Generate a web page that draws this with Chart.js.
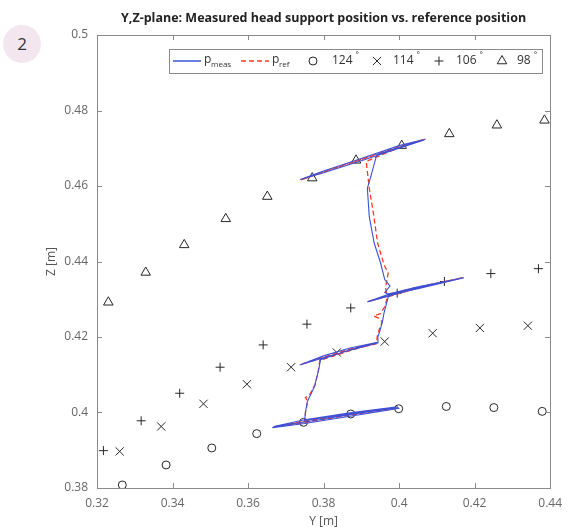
<!DOCTYPE html>
<html>
<head>
<meta charset="utf-8">
<script src="https://cdn.jsdelivr.net/npm/chart.js@4.4.0/dist/chart.umd.min.js"></script>
<style>
  body { margin: 0; background: #fff; }
  #wrap { position: relative; width: 570px; height: 527px; }
  #badge { position: absolute; left: 3px; top: 25px; width: 38px; height: 38px; border-radius: 50%;
           background: #f4e6ee; font: 17px 'Open Sans', sans-serif; color: #333; text-align: center; line-height: 38px; }
</style>
</head>
<body>
<div id="wrap">
  <canvas id="c" width="570" height="527"></canvas>
  <div id="badge">2</div>
</div>
<script>
'use strict';

// axis ticks (horizontal axis is Y, vertical axis is Z)
var ticksY = [0.32, 0.34, 0.36, 0.38, 0.4, 0.42, 0.44];
var ticksZ = [0.38, 0.4, 0.42, 0.44, 0.46, 0.48, 0.5];

// measured head support path
var measY = [0.3664, 0.3750, 0.3870, 0.3999, 0.3995, 0.3870, 0.3750, 0.3668, 0.3750, 0.3870, 0.3990, 0.3870, 0.3750,
             0.3752, 0.3757, 0.3776, 0.3787, 0.3792,
             0.3870, 0.3943, 0.3870, 0.3800, 0.3737, 0.3800, 0.3870, 0.3943,
             0.3944, 0.3950, 0.3956, 0.3960, 0.3967, 0.3973,
             0.4050, 0.4172, 0.4050, 0.3980, 0.3916, 0.3980, 0.4050, 0.4165, 0.4050, 0.3970,
             0.3962, 0.3976, 0.3962, 0.3951, 0.3934, 0.3921, 0.3916, 0.3925, 0.3941,
             0.4000, 0.4070, 0.4000, 0.3900, 0.3800, 0.3738, 0.3800, 0.3900, 0.4000, 0.4066];
var measZ = [0.3960, 0.3971, 0.3990, 0.4011, 0.4015, 0.3999, 0.3981, 0.3963, 0.3975, 0.3994, 0.4013, 0.3996, 0.3979,
             0.4000, 0.4029, 0.4069, 0.4113, 0.4140,
             0.4166, 0.4186, 0.4171, 0.4150, 0.4126, 0.4145, 0.4165, 0.4184,
             0.4201, 0.4219, 0.4241, 0.4263, 0.4290, 0.4312,
             0.4328, 0.4357, 0.4333, 0.4316, 0.4293, 0.4311, 0.4329, 0.4356, 0.4331, 0.4314,
             0.4318, 0.4335, 0.4352, 0.4396, 0.4449, 0.4519, 0.4594, 0.4625, 0.4683,
             0.4702, 0.4724, 0.4707, 0.4673, 0.4640, 0.4617, 0.4635, 0.4667, 0.4700, 0.4722];

// reference path
var refY = [0.3666, 0.3750, 0.3870, 0.3997, 0.3870, 0.3750, 0.3670, 0.3750,
            0.3752, 0.3758, 0.3752, 0.3762, 0.3778, 0.3786, 0.3790,
            0.3870, 0.3940, 0.3870, 0.3740, 0.3870, 0.3940,
            0.3942, 0.3948, 0.3955, 0.3945, 0.3933, 0.3950, 0.3962, 0.3969,
            0.4050, 0.4168, 0.4050, 0.3918, 0.4050, 0.4160, 0.4050, 0.3968,
            0.3964, 0.3971, 0.3960, 0.3943, 0.3932, 0.3921, 0.3913,
            0.4000, 0.4068, 0.4000, 0.3900, 0.3800, 0.3740, 0.3800, 0.3900, 0.4000, 0.4062];
var refZ = [0.3961, 0.3974, 0.3993, 0.4012, 0.3996, 0.3977, 0.3962, 0.3976,
            0.4000, 0.4030, 0.4040, 0.4045, 0.4075, 0.4110, 0.4138,
            0.4164, 0.4184, 0.4168, 0.4128, 0.4166, 0.4182,
            0.4200, 0.4222, 0.4240, 0.4250, 0.4256, 0.4262, 0.4280, 0.4306,
            0.4330, 0.4357, 0.4331, 0.4294, 0.4330, 0.4355, 0.4332, 0.4312,
            0.4330, 0.4369, 0.4392, 0.4449, 0.4528, 0.4594, 0.4665,
            0.4702, 0.4724, 0.4704, 0.4671, 0.4638, 0.4616, 0.4637, 0.4670, 0.4702, 0.4722];

// reference positions per angle
var pos124Y = [0.3267, 0.3383, 0.3504, 0.3623, 0.3747, 0.3872, 0.3999, 0.4125, 0.4251, 0.4379];
var pos124Z = [0.3808, 0.3861, 0.3906, 0.3944, 0.3974, 0.3996, 0.4010, 0.4016, 0.4013, 0.4003];
var pos114Y = [0.3260, 0.3370, 0.3482, 0.3597, 0.3714, 0.3835, 0.3962, 0.4089, 0.4214, 0.4341];
var pos114Z = [0.3897, 0.3963, 0.4023, 0.4075, 0.4120, 0.4159, 0.4188, 0.4210, 0.4224, 0.4230];
var pos106Y = [0.3217, 0.3317, 0.3419, 0.3526, 0.3640, 0.3756, 0.3872, 0.3995, 0.4120, 0.4243, 0.4369];
var pos106Z = [0.3899, 0.3978, 0.4051, 0.4120, 0.4179, 0.4234, 0.4277, 0.4316, 0.4347, 0.4368, 0.4381];
var pos98Y  = [0.3230, 0.3329, 0.3431, 0.3541, 0.3651, 0.3770, 0.3886, 0.4007, 0.4133, 0.4259, 0.4385];
var pos98Z  = [0.4292, 0.4371, 0.4444, 0.4513, 0.4572, 0.4621, 0.4668, 0.4707, 0.4738, 0.4761, 0.4774];

function pts(a, b) {
    return a.map(function(v, i) { return {x: v, y: b[i]}; });
}

var blue = '#3d50d6';
var red = '#ff3a1c';
var ink = '#262626';
var font = "'Open Sans', sans-serif";

function marker(label, style, r, a, b) {
    return {
        label: label, data: pts(a, b), showLine: false,
        pointStyle: style, pointRadius: r, pointHoverRadius: r,
        pointBorderColor: ink, pointBackgroundColor: 'rgba(0,0,0,0)', pointBorderWidth: 1
    };
}

// matlab-like box, inward ticks, titles and legend
var decor = {
    id: 'decor',
    afterDraw: function(chart) {
        var ctx = chart.ctx, a = chart.chartArea;
        var sx = chart.scales.x, sy = chart.scales.y;
        ctx.save();
        ctx.strokeStyle = '#8a8a8a';
        ctx.lineWidth = 1;
        ctx.strokeRect(Math.round(a.left) + 0.5, Math.round(a.top) + 0.5,
                       Math.round(a.right - a.left), Math.round(a.bottom - a.top));
        ctx.beginPath();
        ticksY.forEach(function(t, i) {
            if (i === 0 || i === ticksY.length - 1) return;
            var px = Math.round(sx.getPixelForValue(t)) + 0.5;
            ctx.moveTo(px, a.bottom); ctx.lineTo(px, a.bottom - 5);
            ctx.moveTo(px, a.top); ctx.lineTo(px, a.top + 5);
        });
        ticksZ.forEach(function(t, i) {
            if (i === 0 || i === ticksZ.length - 1) return;
            var py = Math.round(sy.getPixelForValue(t)) + 0.5;
            ctx.moveTo(a.left, py); ctx.lineTo(a.left + 5, py);
            ctx.moveTo(a.right, py); ctx.lineTo(a.right - 5, py);
        });
        ctx.stroke();

        // title and axis labels
        ctx.fillStyle = '#222';
        ctx.textAlign = 'center';
        ctx.textBaseline = 'middle';
        ctx.font = 'bold 12.5px ' + font;
        ctx.fillText('Y,Z-plane: Measured head support position vs. reference position', (a.left + a.right) / 2, 18);
        ctx.fillStyle = '#555';
        ctx.font = '12px ' + font;
        ctx.fillText('Y [m]', (a.left + a.right) / 2, 522);
        ctx.save();
        ctx.translate(52, (a.top + a.bottom) / 2);
        ctx.rotate(-Math.PI / 2);
        ctx.fillText('Z [m]', 0, 0);
        ctx.restore();

        // legend
        var lx = 169.5, ly = 49.5, lw = 373, lh = 24, cy = 61;
        ctx.fillStyle = '#fff';
        ctx.fillRect(lx, ly, lw, lh);
        ctx.strokeStyle = '#8a8a8a';
        ctx.strokeRect(lx, ly, lw, lh);

        ctx.lineWidth = 1.5;
        ctx.strokeStyle = blue;
        ctx.beginPath(); ctx.moveTo(173, cy); ctx.lineTo(201, cy); ctx.stroke();
        ctx.strokeStyle = red;
        ctx.setLineDash([5, 3]);
        ctx.beginPath(); ctx.moveTo(241, cy); ctx.lineTo(269, cy); ctx.stroke();
        ctx.setLineDash([]);

        ctx.fillStyle = '#333';
        ctx.textAlign = 'left';
        ctx.font = '12px ' + font;
        ctx.fillText('p', 204, cy - 1);
        ctx.fillText('p', 272, cy - 1);
        ctx.font = '8px ' + font;
        ctx.fillText('meas', 211, cy + 4);
        ctx.fillText('ref', 279, cy + 4);

        var items = [
            ['circle', 4, 313, '124', 332],
            ['crossRot', 5.8, 377, '114', 393],
            ['cross', 4.5, 439, '106', 456],
            ['triangle', 5.5, 502, '98', 517]
        ];
        items.forEach(function(it) {
            ctx.strokeStyle = ink;
            ctx.fillStyle = 'rgba(0,0,0,0)';
            ctx.lineWidth = 1;
            Chart.helpers.drawPoint(ctx, {pointStyle: it[0], radius: it[1], rotation: 0, borderWidth: 1}, it[2], cy);
            ctx.fillStyle = '#333';
            ctx.font = '12px ' + font;
            ctx.fillText(it[3], it[4], cy);
            var w = ctx.measureText(it[3]).width;
            ctx.font = '8px ' + font;
            ctx.fillText('\u00b0', it[4] + w + 3, cy - 6);
        });
        ctx.restore();
    }
};

new Chart(document.getElementById('c'), {
    type: 'scatter',
    data: {
        datasets: [
            {label: 'p_meas', data: pts(measY, measZ), showLine: true, borderColor: blue, borderWidth: 1.1,
             pointRadius: 0, pointHoverRadius: 0, fill: false, tension: 0},
            {label: 'p_ref', data: pts(refY, refZ), showLine: true, borderColor: red, borderWidth: 1.3, borderDash: [5, 3],
             pointRadius: 0, pointHoverRadius: 0, fill: false, tension: 0},
            marker('124°', 'circle', 4, pos124Y, pos124Z),
            marker('114°', 'crossRot', 5.8, pos114Y, pos114Z),
            marker('106°', 'cross', 4.5, pos106Y, pos106Z),
            marker('98°', 'triangle', 5.5, pos98Y, pos98Z)
        ]
    },
    options: {
        responsive: false,
        animation: false,
        layout: {padding: {left: 0, top: 35, right: 15, bottom: 0}},
        plugins: {legend: {display: false}, tooltip: {enabled: false}, title: {display: false}},
        scales: {
            x: {
                type: 'linear', min: 0.32, max: 0.44,
                grid: {display: false, drawTicks: false},
                border: {display: false},
                afterBuildTicks: function(s) { s.ticks = ticksY.map(function(v) { return {value: v}; }); },
                afterFit: function(s) { s.height = 39; },
                ticks: {color: '#666', padding: 8, font: {family: font, size: 12}, maxRotation: 0,
                        callback: function(v) { return String(+v.toFixed(2)); }}
            },
            y: {
                type: 'linear', min: 0.38, max: 0.5,
                grid: {display: false, drawTicks: false},
                border: {display: false},
                afterBuildTicks: function(s) { s.ticks = ticksZ.map(function(v) { return {value: v}; }); },
                afterFit: function(s) { s.width = 97; },
                ticks: {color: '#666', padding: 9, font: {family: font, size: 12},
                        callback: function(v) { return String(+v.toFixed(2)); }}
            }
        }
    },
    plugins: [decor]
});
</script>
</body>
</html>
